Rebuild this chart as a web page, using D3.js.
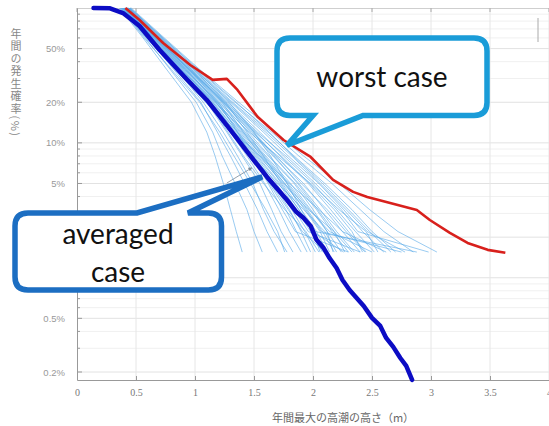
<!DOCTYPE html>
<html>
<head>
<meta charset="utf-8">
<script src="https://cdn.jsdelivr.net/npm/d3@7"></script>
<style>
body { margin: 0; background: #fff; }
</style>
</head>
<body>
<div id="chart"></div>
<script>

// exceedance probability (%) where each ensemble member is read
let memberProbs = [100, 60, 35, 20, 12, 8, 5, 3.2, 2.2, 1.55];
// surge height (m) of each ensemble member at those probabilities
let members = [
    [0.36,0.56,0.76,0.97,1.10,1.17,1.24,1.30,1.35,1.40],
    [0.37,0.58,0.79,1.01,1.15,1.23,1.34,1.44,1.50,1.57],
    [0.38,0.60,0.82,1.05,1.19,1.30,1.42,1.53,1.61,1.70],
    [0.37,0.59,0.84,1.07,1.24,1.36,1.49,1.58,1.67,1.78],
    [0.38,0.61,0.85,1.10,1.27,1.40,1.55,1.65,1.73,1.83],
    [0.39,0.62,0.87,1.12,1.30,1.44,1.59,1.71,1.80,1.90],
    [0.39,0.63,0.88,1.13,1.32,1.47,1.63,1.77,1.86,1.95],
    [0.40,0.63,0.89,1.15,1.34,1.50,1.67,1.82,1.93,2.02],
    [0.40,0.64,0.90,1.16,1.36,1.52,1.71,1.86,1.98,2.08],
    [0.41,0.65,0.91,1.18,1.38,1.55,1.74,1.90,2.03,2.12],
    [0.41,0.66,0.92,1.19,1.40,1.58,1.78,1.95,2.08,2.18],
    [0.42,0.66,0.93,1.21,1.42,1.60,1.81,1.98,2.12,2.24],
    [0.42,0.67,0.94,1.22,1.45,1.63,1.85,2.03,2.16,2.30],
    [0.42,0.68,0.95,1.24,1.47,1.66,1.88,2.06,2.20,2.35],
    [0.43,0.68,0.96,1.25,1.50,1.68,1.92,2.10,2.25,2.40],
    [0.43,0.69,0.97,1.27,1.52,1.72,1.96,2.15,2.30,2.45],
    [0.44,0.70,0.98,1.28,1.55,1.75,2.00,2.20,2.36,2.52],
    [0.44,0.71,0.99,1.30,1.58,1.79,2.05,2.26,2.42,2.60],
    [0.45,0.72,1.01,1.32,1.62,1.84,2.10,2.33,2.50,2.70],
    [0.45,0.73,1.02,1.34,1.65,1.88,2.16,2.40,2.60,2.85],
    [0.46,0.74,1.04,1.37,1.68,1.92,2.22,2.48,2.72,3.05],
    [0.39,0.60,0.84,1.09,1.33,1.55,1.80,2.05,2.25,2.62],
    [0.40,0.66,0.95,1.20,1.36,1.48,1.62,1.74,1.85,2.30],
    [0.41,0.62,0.88,1.17,1.43,1.62,1.84,2.00,2.12,2.17],
    [0.43,0.70,0.99,1.26,1.44,1.58,1.73,1.88,2.02,2.88],
    [0.38,0.59,0.83,1.10,1.30,1.48,1.70,1.92,2.10,2.20],
    [0.44,0.72,1.00,1.29,1.50,1.64,1.78,1.90,2.00,2.06],
    [0.42,0.64,0.91,1.20,1.46,1.70,1.98,2.22,2.45,2.55],
    [0.41,0.67,0.96,1.26,1.53,1.77,2.02,2.24,2.38,2.98],
    [0.40,0.61,0.86,1.13,1.35,1.51,1.69,1.84,1.96,2.40],
    [0.43,0.69,0.97,1.23,1.41,1.56,1.76,1.96,2.18,2.33],
    [0.39,0.61,0.86,1.11,1.28,1.41,1.58,1.76,1.94,2.05],
    [0.37,0.57,0.80,1.04,1.21,1.33,1.47,1.60,1.70,1.76],
    [0.40,0.65,0.93,1.18,1.37,1.53,1.72,1.88,2.00,2.26],
    [0.42,0.67,0.94,1.23,1.48,1.69,1.90,2.12,2.28,2.44],
    [0.44,0.71,1.00,1.31,1.60,1.82,2.06,2.28,2.46,2.78],
    [0.39,0.62,0.88,1.14,1.33,1.49,1.66,1.80,1.90,1.98],
    [0.41,0.64,0.90,1.17,1.39,1.57,1.76,1.93,2.06,2.14],
    [0.43,0.68,0.95,1.24,1.49,1.67,1.87,2.04,2.18,2.27],
    [0.45,0.73,1.03,1.35,1.63,1.83,2.08,2.30,2.48,2.66],
    [0.38,0.60,0.85,1.11,1.31,1.46,1.64,1.79,1.91,2.10],
    [0.41,0.65,0.92,1.19,1.41,1.59,1.79,1.97,2.14,2.50],
    [0.42,0.67,0.95,1.25,1.51,1.73,1.97,2.18,2.33,2.42],
    [0.40,0.63,0.89,1.15,1.36,1.54,1.75,1.94,2.07,2.75]
];

// averaged case
let avgHeight = [0.14,0.28,0.39,0.53,0.70,0.92,1.10,1.30,1.43,1.61,1.78,1.86,1.92,1.98,2.03,2.09,2.14,2.20,2.25,2.31,2.37,2.43,2.50,2.57,2.62,2.68,2.74,2.79,2.84];
let avgProb   = [100,99.5,91.8,73.5,48.8,30.3,20.8,12.5,8.86,5.59,3.77,3.07,2.77,2.42,1.91,1.66,1.40,1.18,0.963,0.812,0.709,0.618,0.504,0.439,0.358,0.307,0.254,0.222,0.175];

// worst case
let worstHeight = [0.41,0.53,0.73,0.96,1.15,1.27,1.36,1.53,1.75,1.98,2.17,2.34,2.46,2.88,2.99,3.16,3.31,3.48,3.63];
let worstProb   = [100,81.5,55.0,37.8,29.3,29.8,24.7,15.6,10.5,7.86,5.31,4.33,3.97,3.18,2.68,2.15,1.81,1.61,1.53];

let xTicks = [0, 0.5, 1, 1.5, 2, 2.5, 3, 3.5, 4];
let xTickLabels = ["0", "0.5", "1", "1.5", "2", "2.5", "3", "3.5", "4"];
let yTicks = [50, 20, 10, 5, 0.5, 0.2];
let yTickLabels = ["50%", "20%", "10%", "5%", "0.5%", "0.2%"];

class SurgeChart {

    constructor () {
        this.width = 549;
        this.height = 426;
        this.plot = {left: 77, top: 8, right: 549, bottom: 380};
        this.svg = d3.select("#chart").append("svg")
            .attr("width", this.width)
            .attr("height", this.height)
            .style("font-family", "'Liberation Sans', Arial, sans-serif");
    }

    update () {
        let p = this.plot;
        let svg = this.svg;

        let x = d3.scaleLinear().domain([0, 4]).range([p.left, p.right]);
        let y = d3.scaleLog().domain([0.1745, 100]).range([p.bottom, p.top]);

        // minor log levels for grid and ticks
        let minor = [];
        [0.1, 1, 10].forEach(function(dec){
            for (let k = 1; k < 10; k++) {
                let v = +(dec * k).toPrecision(3);
                if (v >= 0.18 && v < 100) minor.push(v);
            }
        });
        let major = [50, 20, 10, 5, 2, 1, 0.5, 0.2];

        let grid = svg.append("g");
        grid.selectAll(".hgrid").data(minor).enter().append("line")
            .attr("x1", p.left).attr("x2", p.right)
            .attr("y1", function(d){ return y(d); })
            .attr("y2", function(d){ return y(d); })
            .attr("stroke", function(d){ return major.indexOf(d) >= 0 ? "#e2e2e2" : "#f0f0f0"; })
            .attr("stroke-width", 1);
        grid.selectAll(".vgrid").data(xTicks.slice(1)).enter().append("line")
            .attr("x1", function(d){ return x(d); })
            .attr("x2", function(d){ return x(d); })
            .attr("y1", p.top).attr("y2", p.bottom)
            .attr("stroke", "#e6e6e6");

        // frame
        svg.append("line").attr("x1", p.left).attr("x2", p.right)
            .attr("y1", p.top + 0.5).attr("y2", p.top + 0.5).attr("stroke", "#cfcfcf");

        // minor ticks on the left axis, pointing inward
        svg.append("g").selectAll("line").data(minor).enter().append("line")
            .attr("x1", p.left).attr("x2", function(d){ return p.left + (major.indexOf(d) >= 0 ? 5 : 3); })
            .attr("y1", function(d){ return y(d); })
            .attr("y2", function(d){ return y(d); })
            .attr("stroke", "#999");
        // top ticks
        svg.append("g").selectAll("line").data(xTicks).enter().append("line")
            .attr("x1", function(d){ return x(d); })
            .attr("x2", function(d){ return x(d); })
            .attr("y1", p.top).attr("y2", p.top + 4)
            .attr("stroke", "#aaa");

        let xAxis = svg.append("g")
            .attr("transform", "translate(0," + p.bottom + ")")
            .call(d3.axisBottom(x).tickValues(xTicks)
                  .tickFormat(function(d, i){ return xTickLabels[i]; })
                  .tickSizeInner(-4).tickSizeOuter(0).tickPadding(9));
        xAxis.select(".domain").attr("stroke", "#999");
        xAxis.selectAll(".tick line").attr("stroke", "#999");
        xAxis.selectAll("text")
            .style("font-family", "'Liberation Serif', 'Times New Roman', serif")
            .style("font-size", "10px")
            .attr("fill", "#777");

        let yAxis = svg.append("g")
            .attr("transform", "translate(" + p.left + ",0)")
            .call(d3.axisLeft(y).tickValues(yTicks)
                  .tickFormat(function(d, i){ return yTickLabels[i]; })
                  .tickSizeInner(0).tickSizeOuter(0).tickPadding(12));
        yAxis.select(".domain").attr("stroke", "#999");
        yAxis.selectAll("text")
            .style("font-size", "9.5px")
            .attr("fill", "#999");

        // ensemble members
        let line = d3.line()
            .x(function(d){ return x(d[0]); })
            .y(function(d){ return y(d[1]); });

        svg.append("g").selectAll("path").data(members).enter().append("path")
            .attr("d", function(m){
                return line(m.map(function(h, i){ return [h, memberProbs[i]]; }));
            })
            .attr("fill", "none")
            .attr("stroke", "#56a8e8")
            .attr("stroke-opacity", 0.6)
            .attr("stroke-width", 1);

        svg.append("path")
            .attr("d", line(worstHeight.map(function(h, i){ return [h, worstProb[i]]; })))
            .attr("fill", "none")
            .attr("stroke", "#d8201c")
            .attr("stroke-width", 2.6)
            .attr("stroke-linejoin", "round");

        svg.append("path")
            .attr("d", line(avgHeight.map(function(h, i){ return [h, avgProb[i]]; })))
            .attr("fill", "none")
            .attr("stroke", "#0c0cc4")
            .attr("stroke-width", 4.5)
            .attr("stroke-linejoin", "round")
            .attr("stroke-linecap", "round");

        // small grey arrow left in the band
        svg.append("defs").append("marker")
            .attr("id", "ah").attr("viewBox", "0 0 10 10")
            .attr("refX", 8).attr("refY", 5)
            .attr("markerWidth", 5).attr("markerHeight", 5)
            .attr("orient", "auto")
            .append("path").attr("d", "M0,0L10,5L0,10z").attr("fill", "#7a8a9a");
        svg.append("line")
            .attr("x1", x(1.27)).attr("y1", y(5.04))
            .attr("x2", x(1.48)).attr("y2", y(6.52))
            .attr("stroke", "#7a8a9a").attr("stroke-width", 0.8)
            .attr("marker-end", "url(#ah)");

        // stray mark at the top right
        svg.append("line").attr("x1", 538).attr("x2", 538)
            .attr("y1", 18).attr("y2", 42).attr("stroke", "#aaa");

        // y title, written vertically
        svg.append("text")
            .attr("x", 16).attr("y", 28)
            .style("writing-mode", "vertical-rl")
            .style("letter-spacing", "1.5px")
            .style("font-family", "'Noto Sans CJK JP', sans-serif")
            .style("font-size", "11px")
            .attr("fill", "#888")
            .text("年間の発生確率(%)");

        svg.append("text")
            .attr("x", 343).attr("y", 422)
            .attr("text-anchor", "middle")
            .style("font-family", "'Noto Sans CJK JP', sans-serif")
            .style("font-size", "11px")
            .attr("fill", "#666")
            .text("年間最大の高潮の高さ（m）");

        // callouts
        let r = 13;
        let wTip = [x(1.78), y(9.6)];
        let wb = {x0: 277, y0: 38, x1: 487, y1: 115.5};
        let wPath = "M" + (wb.x0 + r) + "," + wb.y0 +
            "H" + (wb.x1 - r) + "Q" + wb.x1 + "," + wb.y0 + " " + wb.x1 + "," + (wb.y0 + r) +
            "V" + (wb.y1 - r) + "Q" + wb.x1 + "," + wb.y1 + " " + (wb.x1 - r) + "," + wb.y1 +
            "H363L" + wTip[0] + "," + wTip[1] + "L313," + wb.y1 +
            "H" + (wb.x0 + r) + "Q" + wb.x0 + "," + wb.y1 + " " + wb.x0 + "," + (wb.y1 - r) +
            "V" + (wb.y0 + r) + "Q" + wb.x0 + "," + wb.y0 + " " + (wb.x0 + r) + "," + wb.y0 + "Z";
        svg.append("path").attr("d", wPath)
            .attr("fill", "#fff").attr("stroke", "#1a9cd8")
            .attr("stroke-width", 5.5).attr("stroke-linejoin", "miter");
        svg.append("text")
            .attr("x", 382).attr("y", 87)
            .attr("text-anchor", "middle")
            .style("font-family", "Lato, 'Open Sans', sans-serif")
            .style("font-size", "28px")
            .attr("fill", "#111")
            .text("worst case");

        let aTip = [x(1.57), y(5.6)];
        let ab = {x0: 15, y0: 213, x1: 221.5, y1: 290};
        let aPath = "M" + (ab.x0 + r) + "," + ab.y0 +
            "H137L" + aTip[0] + "," + aTip[1] + "L188," + ab.y0 +
            "H" + (ab.x1 - r) + "Q" + ab.x1 + "," + ab.y0 + " " + ab.x1 + "," + (ab.y0 + r) +
            "V" + (ab.y1 - r) + "Q" + ab.x1 + "," + ab.y1 + " " + (ab.x1 - r) + "," + ab.y1 +
            "H" + (ab.x0 + r) + "Q" + ab.x0 + "," + ab.y1 + " " + ab.x0 + "," + (ab.y1 - r) +
            "V" + (ab.y0 + r) + "Q" + ab.x0 + "," + ab.y0 + " " + (ab.x0 + r) + "," + ab.y0 + "Z";
        svg.append("path").attr("d", aPath)
            .attr("fill", "#fff").attr("stroke", "#1c6ec2")
            .attr("stroke-width", 5.5).attr("stroke-linejoin", "miter");
        let at = svg.append("text")
            .attr("text-anchor", "middle")
            .style("font-family", "Lato, 'Open Sans', sans-serif")
            .style("font-size", "28px")
            .attr("fill", "#111");
        at.append("tspan").attr("x", 118).attr("y", 244).text("averaged");
        at.append("tspan").attr("x", 118).attr("y", 282).text("case");
    }
}

let chart = new SurgeChart();
chart.update();
</script>
</body>
</html>
